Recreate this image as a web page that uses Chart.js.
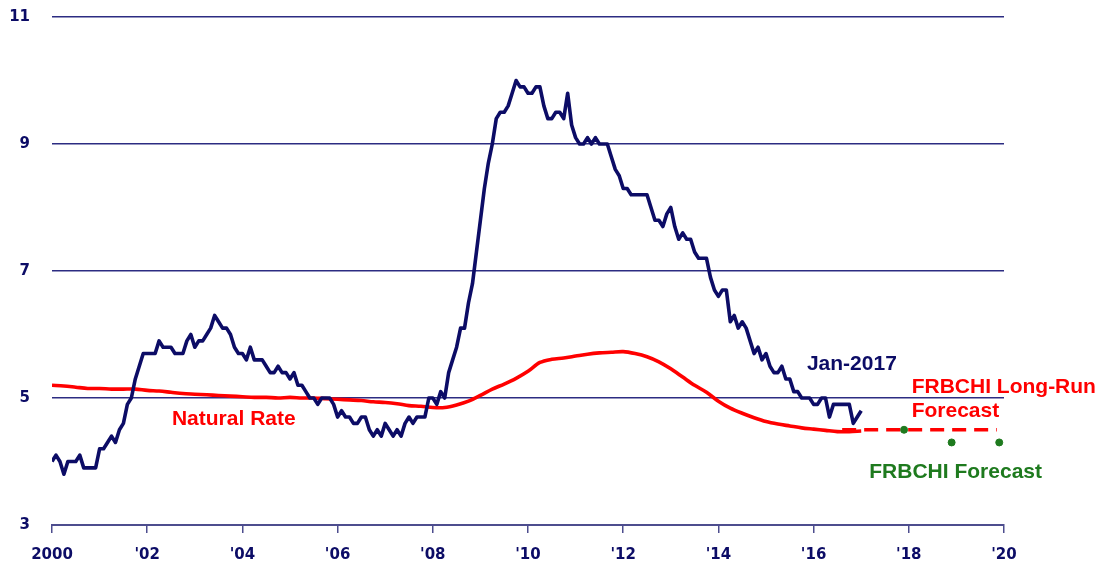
<!DOCTYPE html>
<html>
<head>
<meta charset="utf-8">
<script src="https://cdn.jsdelivr.net/npm/chart.js@4.4.1/dist/chart.umd.min.js"></script>
<style>
  html, body { margin: 0; padding: 0; background: #ffffff; }
  #wrap { width: 1103px; height: 565px; }
</style>
</head>
<body>
<div id="wrap"><canvas id="c" width="1103" height="565"></canvas></div>
<script>
// ---- Data ----
// Monthly unemployment rate, Jan 2000 .. Jan 2017 (percent)
const unempStart = 2000;
const unempRate = [
  4.0,4.1,4.0,3.8,4.0,4.0,4.0,4.1,3.9,3.9,3.9,3.9,   // 2000
  4.2,4.2,4.3,4.4,4.3,4.5,4.6,4.9,5.0,5.3,5.5,5.7,   // 2001
  5.7,5.7,5.7,5.9,5.8,5.8,5.8,5.7,5.7,5.7,5.9,6.0,   // 2002
  5.8,5.9,5.9,6.0,6.1,6.3,6.2,6.1,6.1,6.0,5.8,5.7,   // 2003
  5.7,5.6,5.8,5.6,5.6,5.6,5.5,5.4,5.4,5.5,5.4,5.4,   // 2004
  5.3,5.4,5.2,5.2,5.1,5.0,5.0,4.9,5.0,5.0,5.0,4.9,   // 2005
  4.7,4.8,4.7,4.7,4.6,4.6,4.7,4.7,4.5,4.4,4.5,4.4,   // 2006
  4.6,4.5,4.4,4.5,4.4,4.6,4.7,4.6,4.7,4.7,4.7,5.0,   // 2007
  5.0,4.9,5.1,5.0,5.4,5.6,5.8,6.1,6.1,6.5,6.8,7.3,   // 2008
  7.8,8.3,8.7,9.0,9.4,9.5,9.5,9.6,9.8,10.0,9.9,9.9,  // 2009
  9.8,9.8,9.9,9.9,9.6,9.4,9.4,9.5,9.5,9.4,9.8,9.3,   // 2010
  9.1,9.0,9.0,9.1,9.0,9.1,9.0,9.0,9.0,8.8,8.6,8.5,   // 2011
  8.3,8.3,8.2,8.2,8.2,8.2,8.2,8.0,7.8,7.8,7.7,7.9,   // 2012
  8.0,7.7,7.5,7.6,7.5,7.5,7.3,7.2,7.2,7.2,6.9,6.7,   // 2013
  6.6,6.7,6.7,6.2,6.3,6.1,6.2,6.1,5.9,5.7,5.8,5.6,   // 2014
  5.7,5.5,5.4,5.4,5.5,5.3,5.3,5.1,5.1,5.0,5.0,5.0,   // 2015
  4.9,4.9,5.0,5.0,4.7,4.9,4.9,4.9,4.9,4.9,4.6,4.7,   // 2016
  4.8                                                // Jan 2017
];

// Quarterly natural rate, 2000Q1 .. 2017Q1 (percent)
const naturalStart = 2000;
const naturalRate = [
  5.20,5.19,5.17,5.15,  5.15,5.14,5.14,5.14,  5.12,5.11,5.09,5.07,
  5.06,5.05,5.04,5.03,  5.02,5.01,5.01,5.00,  5.01,5.00,5.00,4.99,
  4.98,4.97,4.96,4.94,  4.93,4.91,4.88,4.87,  4.85,4.85,4.89,4.95,
  5.04,5.14,5.22,5.31,  5.42,5.56,5.61,5.63,  5.66,5.69,5.71,5.72,
  5.73,5.70,5.65,5.57,  5.46,5.33,5.20,5.09,  4.95,4.84,4.76,4.69,
  4.63,4.59,4.56,4.53,  4.51,4.49,4.47,4.47,  4.48
];

// FRBCHI long-run forecast (dashed)
const longRunYears = [2016.6, 2019.85];
const longRunValues = [4.5, 4.5];

// FRBCHI forecast points
const forecastYears = [2017.9, 2018.9, 2019.9];
const forecastValues = [4.5, 4.3, 4.3];

// Axis tick labels
const xTickLabels = ["2000","'02","'04","'06","'08","'10","'12","'14","'16","'18","'20"];
const yTickValues = [3, 5, 7, 9, 11];

// ---- Build datasets ----
const unempPoints = unempRate.map((v, i) => ({ x: unempStart + i / 12, y: v }));
const naturalPoints = naturalRate.map((v, i) => ({ x: naturalStart + i / 4, y: v }));
const longRunPoints = longRunYears.map((x, i) => ({ x: x, y: longRunValues[i] }));
const forecastPoints = forecastYears.map((x, i) => ({ x: x, y: forecastValues[i] }));

const NAVY = '#0c0c66';
const RED = '#ff0000';
const GREEN = '#1e7a1e';
const GRID = '#2c2c82';
const AXIS = '#4d4d8e';

const annotations = [
  { text: 'Natural Rate', x: 2002.52, y: 4.67, color: RED },
  { text: 'Jan-2017', x: 2015.86, y: 5.54, color: NAVY },
  { text: 'FRBCHI Long-Run', x: 2018.06, y: 5.165, color: RED },
  { text: 'Forecast', x: 2018.06, y: 4.79, color: RED },
  { text: 'FRBCHI Forecast', x: 2017.17, y: 3.83, color: GREEN }
];

const annotationPlugin = {
  id: 'textNotes',
  afterDatasetsDraw(chart) {
    const ctx = chart.ctx;
    const xs = chart.scales.x, ys = chart.scales.y;
    ctx.save();
    ctx.font = 'bold 21px "Liberation Sans", Arial, sans-serif';
    ctx.textAlign = 'left';
    ctx.textBaseline = 'middle';
    annotations.forEach(a => {
      ctx.fillStyle = a.color;
      ctx.fillText(a.text, xs.getPixelForValue(a.x), ys.getPixelForValue(a.y));
    });
    ctx.restore();
  }
};

new Chart(document.getElementById('c'), {
  type: 'line',
  data: {
    datasets: [
      { data: unempPoints, borderColor: NAVY, borderWidth: 3.6, pointRadius: 0, tension: 0, fill: false, borderJoinStyle: 'round' },
      { data: naturalPoints, borderColor: RED, borderWidth: 3.6, pointRadius: 0, tension: 0.3, fill: false },
      { data: longRunPoints, borderColor: RED, borderWidth: 3.6, borderDash: [14, 8], pointRadius: 0, fill: false },
      { type: 'scatter', data: forecastPoints, showLine: false, pointRadius: 3.5, pointBackgroundColor: GREEN, pointBorderColor: GREEN, borderColor: GREEN }
    ]
  },
  options: {
    responsive: false,
    animation: false,
    events: [],
    layout: { autoPadding: false, padding: { left: 0, right: 99, top: 17, bottom: 0 } },
    plugins: { legend: { display: false }, tooltip: { enabled: false } },
    scales: {
      x: {
        type: 'linear',
        min: 2000, max: 2020,
        afterFit(scale) { scale.height = 40; scale.paddingTop = 0; scale.paddingBottom = 0; scale.paddingLeft = 0; scale.paddingRight = 0; },
        afterBuildTicks(scale) {
          scale.ticks = xTickLabels.map((_, i) => ({ value: 2000 + 2 * i }));
        },
        ticks: {
          autoSkip: false,
          maxRotation: 0,
          padding: 13,
          color: NAVY,
          font: { family: '"DejaVu Sans", Verdana, sans-serif', weight: 'bold', size: 15 },
          callback(value) { return xTickLabels[Math.round((value - 2000) / 2)]; }
        },
        grid: { drawOnChartArea: false, drawTicks: true, tickLength: 8, color: AXIS, lineWidth: 1.5 },
        border: { display: true, color: AXIS, width: 2 }
      },
      y: {
        type: 'linear',
        min: 3, max: 11,
        afterFit(scale) { scale.width = 52; scale.paddingTop = 0; scale.paddingBottom = 0; },
        afterBuildTicks(scale) {
          scale.ticks = yTickValues.map(v => ({ value: v }));
        },
        ticks: {
          padding: 22,
          color: NAVY,
          font: { family: '"DejaVu Sans", Verdana, sans-serif', weight: 'bold', size: 15 },
          callback(value) { return String(value); }
        },
        grid: { drawTicks: false, color: GRID, lineWidth: 1.5 },
        border: { display: false }
      }
    }
  },
  plugins: [annotationPlugin]
});
</script>
</body>
</html>
